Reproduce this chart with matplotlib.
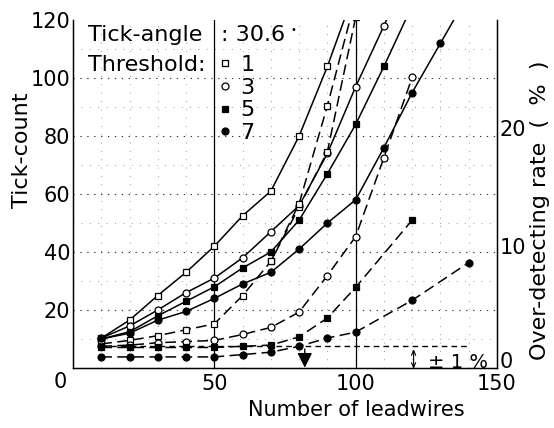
import numpy as np
import matplotlib
matplotlib.use("Agg")
import matplotlib.pyplot as plt
import matplotlib.transforms as mtransforms
from matplotlib.lines import Line2D

plt.rcParams['font.family'] = ['DejaVu Sans']

# number of leadwires
x_main = [10, 20, 30, 40, 50, 60, 70, 80, 90, 100]

# tick-count (left axis), solid lines
count_1 = [10.3, 16.5, 25, 33, 42, 52.5, 61, 80, 104, 131]
count_3 = [10.3, 14.5, 20, 26, 31, 38, 47, 56, 74, 97, 118, 140]
count_5 = [10, 12.5, 18, 23, 28, 34.5, 40, 51, 67, 84, 104, 125]
count_7 = [10, 12, 16.5, 19.5, 24, 29, 33, 41, 50, 58, 76, 95, 112, 129]
x_count_1 = x_main
x_count_3 = x_main + [110, 120]
x_count_5 = x_main + [110, 120]
x_count_7 = x_main + [110, 120, 130, 140]

# over-detecting rate % (right axis), dashed lines
rate_1a = [1.7, 2.0, 2.4, 2.9, 3.4, 5.8, 8.7, 13.3, 18.0, 29.4]
x_rate_1a = x_main
rate_1b = [8.7, 13.6, 21.9, 31]
x_rate_1b = [70, 80, 90, 100]
rate_3 = [1.5, 1.6, 1.8, 1.9, 2.0, 2.5, 3.1, 4.4, 7.5, 10.8, 17.5, 24.3]
x_rate_3 = x_main + [110, 120]
rate_5 = [1.4, 1.4, 1.4, 1.4, 1.4, 1.5, 1.6, 2.3, 3.9, 6.5, 12.2]
x_rate_5 = x_main + [120]
rate_7 = [0.6, 0.6, 0.6, 0.6, 0.6, 0.8, 1.0, 1.5, 2.2, 2.7, 5.4, 8.6]
x_rate_7 = x_main + [120, 140]

thresholds = ['1', '3', '5', '7']
ref_level = 1.5  # +-1 % band line

W, H = 554, 428
fig = plt.figure(figsize=(W / 100, H / 100), dpi=100)
ax = fig.add_axes([73 / W, 1 - 368 / H, (497 - 73) / W, (368 - 20) / H])
ax2 = ax.twinx()

ax.set_xlim(0, 150)
ax.set_ylim(0, 120)
ax2.set_ylim(-0.34, 29.16)

# dotted grid
for yv in range(10, 120, 10):
    if yv % 20 == 0:
        ax.axhline(yv, color='#333333', lw=0.8, ls=(0, (1.2, 5)), zorder=0)
    else:
        ax.axhline(yv, color='#777777', lw=0.6, ls=(0, (1, 9)), zorder=0)
for xv in range(10, 150, 10):
    if xv in (50, 100):
        continue
    ax.axvline(xv, color='#777777', lw=0.6, ls=(0, (1, 9)), zorder=0)
ax.axvline(50, color='black', lw=0.9, zorder=1)
ax.axvline(100, color='black', lw=0.9, zorder=1)

mk = dict(ms=5, mec='black', mew=0.9)
sty = {'1': dict(marker='s', mfc='white'), '3': dict(marker='o', mfc='white'),
       '5': dict(marker='s', mfc='black'), '7': dict(marker='o', mfc='black')}

# solid lines: tick-count
ax.plot(x_count_1, count_1, color='black', lw=1.1, **sty['1'], **mk)
ax.plot(x_count_3, count_3, color='black', lw=1.1, **sty['3'], **mk)
ax.plot(x_count_5, count_5, color='black', lw=1.1, **sty['5'], **mk)
ax.plot(x_count_7, count_7, color='black', lw=1.1, **sty['7'], **mk)

# dashed lines: over-detecting rate
dash = (0, (7, 3.5))
ax2.plot(x_rate_1a, rate_1a, color='black', lw=1.1, ls=dash, **sty['1'], **mk)
ax2.plot(x_rate_1b, rate_1b, color='black', lw=1.1, ls=dash, **sty['1'], **mk)
ax2.plot(x_rate_3, rate_3, color='black', lw=1.1, ls=dash, **sty['3'], **mk)
ax2.plot(x_rate_5, rate_5, color='black', lw=1.1, ls=dash, **sty['5'], **mk)
ax2.plot(x_rate_7, rate_7, color='black', lw=1.1, ls=dash, **sty['7'], **mk)

ax2.hlines(ref_level, 10, 140, colors='black', lw=1.0, linestyles=(0, (4, 3)))
ax2.annotate('', xy=(82, -0.55), xytext=(82, ref_level), annotation_clip=False,
             arrowprops=dict(arrowstyle='-|>,head_length=0.9,head_width=0.45',
                             color='black', lw=1.0))
ax2.annotate('', xy=(120.5, -0.65), xytext=(120.5, ref_level), annotation_clip=False,
             arrowprops=dict(arrowstyle='<->,head_length=0.35,head_width=0.15',
                             color='black', lw=0.8))
ax2.text(125.5, 0.15, '± 1 %', fontsize=14, va='center', ha='left')

# axes styling
for a in (ax, ax2):
    a.spines['top'].set_visible(False)
    a.tick_params(length=0)
ax.spines['left'].set_linewidth(1.0)
ax.spines['bottom'].set_linewidth(1.0)
ax2.spines['right'].set_linewidth(1.0)

ax.set_yticks([20, 40, 60, 80, 100, 120])
ax.set_xticks([50, 100, 150])
ax.tick_params(axis='y', labelsize=15, pad=2)
ax.tick_params(axis='x', labelsize=15, pad=4)
ax2.set_yticks([0, 10, 20])
ax2.tick_params(axis='y', labelsize=15, pad=2)
# right-axis "0" sits a little above the corner, clear of "150"
lift = mtransforms.ScaledTranslation(0, 4 / 100, fig.dpi_scale_trans)
zero_lbl = ax2.get_yticklabels()[0]
zero_lbl.set_transform(zero_lbl.get_transform() + lift)
fig.text(60 / W, 1 - 382 / H, '0', fontsize=15, ha='center', va='center')

fig.text(22 / W, 1 - 150 / H, 'Tick-count', rotation=90, fontsize=16,
         ha='center', va='center')
fig.text(540 / W, 1 - 210 / H, 'Over-detecting rate  (  %  )', rotation=90,
         fontsize=16, ha='center', va='center')
fig.text(356 / W, 1 - 410 / H, 'Number of leadwires', fontsize=15,
         ha='center', va='center')

# legend block
fig.text(88 / W, 1 - 35 / H, 'Tick-angle', fontsize=16, ha='left', va='center')
fig.text(221 / W, 1 - 35 / H, ': 30.6', fontsize=16, ha='left', va='center')
fig.text(293 / W, 1 - 30 / H, '•', fontsize=7, ha='center', va='center')
fig.text(88 / W, 1 - 65 / H, 'Threshold:', fontsize=16, ha='left', va='center')
handles = [Line2D([], [], color='black', ls='none', ms=5, mew=0.9, mec='black',
                  **sty[t]) for t in thresholds]
fig.legend(handles, thresholds, loc='upper left',
           bbox_to_anchor=(219 / W, 1 - 55 / H), frameon=False, fontsize=16,
           handlelength=0.5, handletextpad=0.45, labelspacing=0.12,
           borderpad=0, borderaxespad=0)

fig.savefig('out.png', dpi=100)
